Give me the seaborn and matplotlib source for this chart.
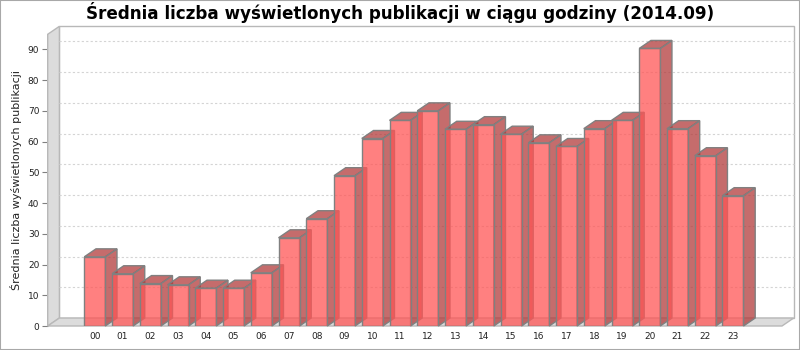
import matplotlib
matplotlib.use("Agg")
import matplotlib.pyplot as plt
from matplotlib.patches import Polygon, Rectangle
import seaborn as sns
import pandas as pd

hours = [f"{h:02d}" for h in range(24)]
values = [22.5, 17.0, 13.8, 13.4, 12.3, 12.3, 17.3, 28.7, 34.9, 48.9,
          61.0, 66.9, 70.0, 64.0, 65.5, 62.4, 59.6, 58.4, 64.2, 66.9,
          90.3, 64.2, 55.4, 42.4]
yticks = list(range(0, 100, 10))
title = "Średnia liczba wyświetlonych publikacji w ciągu godziny (2014.09)"
ylabel = "Średnia liczba wyświetlonych publikacji"

sns.set_theme(style="white")
plt.rcParams['font.family'] = ['DejaVu Sans']

W, H = 800, 350
fig = plt.figure(figsize=(8, 3.5), dpi=100)
fig.patch.set_facecolor('white')

x0, x1 = 47.7, 782.0
ytop, ybot = 34.3, 326.0
ax = fig.add_axes([x0 / W, (H - ybot) / H, (x1 - x0) / W, (ybot - ytop) / H])
ax.patch.set_alpha(0)

df = pd.DataFrame({"hour": hours, "value": values})
bw = 0.757
sns.barplot(data=df, x="hour", y="value", order=hours, color="#ff5555",
            width=bw, ax=ax, zorder=5)

xmin, xmax = -1.697, 24.766
ymin, ymax = 0, 94.9
ax.set_xlim(xmin, xmax)
ax.set_ylim(ymin, ymax)

pxx = (x1 - x0) / (xmax - xmin)
pxy = (ybot - ytop) / (ymax - ymin)
DX = 11.7 / pxx
DY = 8.0 / pxy

wall_fc = "#dcdcdc"
wall_ec = "#b8b8b8"
# back plot area
ax.add_patch(Rectangle((xmin + DX, ymin + DY), xmax - xmin, ymax - ymin,
                       facecolor="white", edgecolor=wall_ec, lw=1,
                       clip_on=False, zorder=0.5))
# left wall
ax.add_patch(Polygon([(xmin, 0), (xmin, ymax), (xmin + DX, ymax + DY), (xmin + DX, DY)],
                     closed=True, facecolor=wall_fc, edgecolor=wall_ec, lw=1,
                     clip_on=False, zorder=1))
# floor
ax.add_patch(Polygon([(xmin, 0), (xmax, 0), (xmax + DX, DY), (xmin + DX, DY)],
                     closed=True, facecolor=wall_fc, edgecolor=wall_ec, lw=1,
                     clip_on=False, zorder=1))
# gridlines on back wall
for v in yticks[1:]:
    ax.plot([xmin + DX, xmax + DX], [v + DY, v + DY], color="#d4d4d4",
            lw=0.8, ls=(0, (2, 2)), clip_on=False, zorder=1.5)

front_fc = (1.0, 85 / 255, 85 / 255, 0.75)
side_fc = (178 / 255, 59 / 255, 59 / 255, 0.75)

# front faces styling
for p in ax.patches:
    if isinstance(p, Rectangle) and p.get_zorder() == 5:
        p.set_facecolor(front_fc)
        p.set_edgecolor("#808080")
        p.set_linewidth(1)

# 3D sides and tops
for i, v in enumerate(values):
    l, r = i - bw / 2, i + bw / 2
    side = [(r, 0), (r + DX, DY), (r + DX, v + DY), (r, v)]
    top = [(l, v), (l + DX, v + DY), (r + DX, v + DY), (r, v)]
    for poly in (side, top):
        ax.add_patch(Polygon(poly, closed=True, facecolor=side_fc,
                             edgecolor="#808080", lw=1, clip_on=False, zorder=3))

for s in ax.spines.values():
    s.set_visible(False)

ax.set_yticks(yticks)
ax.set_yticklabels([str(t) for t in yticks], fontsize=6.5)
ax.tick_params(axis="y", left=True, length=4, width=0.8, color="#808080", pad=2,
               labelcolor="#222222")
ax.tick_params(axis="x", length=0, pad=4, labelsize=6.5, labelcolor="#222222")
ax.set_xlabel("")
ax.set_ylabel(ylabel, fontsize=8, labelpad=4, color="#222222")

fig.text(0.5, 1 - 12.5 / H, title, ha="center", va="center",
         fontsize=12.1, fontweight="bold", color="black")

fig.add_artist(Rectangle((0, 0), 1, 1, transform=fig.transFigure, fill=False,
                         edgecolor="#a8a8a8", lw=1.5))

fig.savefig("out.png", dpi=100, facecolor="white")
